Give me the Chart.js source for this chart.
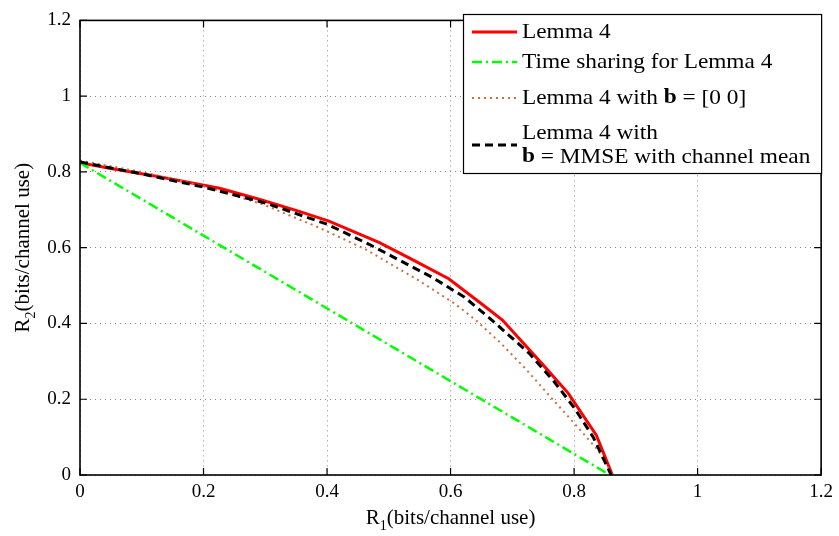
<!DOCTYPE html>
<html>
<head>
    <title>Rate region</title>
    <script src="https://cdn.jsdelivr.net/npm/chart.js"></script>
    <style>
        body { margin: 0; background: #fff; }
        #wrap { width: 839px; height: 536px; }
    </style>
</head>
<body>
    <div id="wrap"><canvas id="rate-chart"></canvas></div>

    <script>
        // Lemma 4
        const lemmaR1 = [0, 0.05, 0.126, 0.226, 0.29, 0.355, 0.403, 0.484, 0.532, 0.597, 0.65, 0.684, 0.749, 0.791, 0.836, 0.862];
        const lemmaR2 = [0.824, 0.809, 0.788, 0.757, 0.728, 0.696, 0.67, 0.614, 0.574, 0.518, 0.452, 0.409, 0.292, 0.215, 0.105, 0];

        // Time sharing for Lemma 4
        const shareR1 = [0, 0.858];
        const shareR2 = [0.824, 0];

        // Lemma 4 with b = [0 0]
        const zeroR1 = [0, 0.1, 0.2, 0.231, 0.3, 0.387, 0.462, 0.548, 0.607, 0.64, 0.68, 0.72, 0.763, 0.806, 0.839, 0.862];
        const zeroR2 = [0.83, 0.8, 0.762, 0.748, 0.712, 0.653, 0.596, 0.514, 0.452, 0.41, 0.35, 0.283, 0.204, 0.126, 0.065, 0];

        // Lemma 4 with b = MMSE with channel mean
        const mmseR1 = [0, 0.1, 0.2, 0.3, 0.4, 0.468, 0.57, 0.622, 0.664, 0.727, 0.767, 0.8, 0.831, 0.86];
        const mmseR2 = [0.826, 0.795, 0.76, 0.718, 0.662, 0.609, 0.522, 0.47, 0.413, 0.322, 0.248, 0.178, 0.1, 0];

        const axisTicks = [0, 0.2, 0.4, 0.6, 0.8, 1, 1.2];

        function pts(xs, ys) {
            return xs.map((x, i) => ({ x: x, y: ys[i] }));
        }

        const serif = '"Liberation Serif", "Times New Roman", serif';

        // draw text made of [string, bold] pieces, left aligned, a bit widened
        function drawRich(ctx, parts, x, y, size, stretch) {
            ctx.save();
            ctx.translate(x, y);
            ctx.scale(stretch, 1);
            let cx = 0;
            for (const [txt, bold] of parts) {
                ctx.font = (bold ? 'bold ' : '') + size + 'px ' + serif;
                ctx.fillText(txt, cx, 0);
                cx += ctx.measureText(txt).width;
            }
            ctx.restore();
        }

        const legendItems = [
            { color: '#ff0000', width: 3, dash: [], rows: [[['Lemma 4', false]]], y: 32 },
            { color: '#00ff00', width: 2.5, dash: [10, 4, 2, 4], rows: [[['Time sharing for Lemma 4', false]]], y: 62 },
            { color: '#c8703f', width: 2, dash: [2, 4], rows: [[['Lemma 4 with ', false], ['b', true], [' = [0 0]', false]]], y: 98 },
            { color: '#000000', width: 3, dash: [8, 5], rows: [[['Lemma 4 with', false]], [['b', true], [' = MMSE with channel mean', false]]], y: 145 }
        ];

        const framePlugin = {
            id: 'frame',
            afterDraw(chart) {
                const ctx = chart.ctx;
                const a = chart.chartArea;
                const xs = chart.scales.x, ys = chart.scales.y;
                ctx.save();

                // box and inward ticks
                ctx.strokeStyle = '#000';
                ctx.lineWidth = 1.6;
                ctx.setLineDash([]);
                ctx.strokeRect(a.left, a.top, a.right - a.left, a.bottom - a.top);
                ctx.lineWidth = 1.2;
                ctx.beginPath();
                for (const v of axisTicks) {
                    const px = xs.getPixelForValue(v);
                    ctx.moveTo(px, a.bottom); ctx.lineTo(px, a.bottom - 7);
                    ctx.moveTo(px, a.top); ctx.lineTo(px, a.top + 7);
                    const py = ys.getPixelForValue(v);
                    ctx.moveTo(a.left, py); ctx.lineTo(a.left + 7, py);
                    ctx.moveTo(a.right, py); ctx.lineTo(a.right - 7, py);
                }
                ctx.stroke();

                // axis titles with subscripts
                ctx.fillStyle = '#000';
                ctx.textBaseline = 'alphabetic';
                const drawTitle = (sub) => {
                    ctx.font = '21px ' + serif;
                    const wR = ctx.measureText('R').width;
                    const rest = '(bits/channel use)';
                    const wRest = ctx.measureText(rest).width;
                    ctx.font = '14px ' + serif;
                    const wSub = ctx.measureText(sub).width;
                    const total = wR + wSub + wRest;
                    let x0 = -total / 2;
                    ctx.font = '21px ' + serif;
                    ctx.fillText('R', x0, 0);
                    ctx.font = '14px ' + serif;
                    ctx.fillText(sub, x0 + wR, 6);
                    ctx.font = '21px ' + serif;
                    ctx.fillText(rest, x0 + wR + wSub, 0);
                };
                ctx.save();
                ctx.translate((a.left + a.right) / 2, 524);
                drawTitle('1');
                ctx.restore();
                ctx.save();
                ctx.translate(29, (a.top + a.bottom) / 2);
                ctx.rotate(-Math.PI / 2);
                drawTitle('2');
                ctx.restore();

                // legend box
                const lx = 463, ly = 14, lw = a.right - 463, lh = 159;
                ctx.fillStyle = '#fff';
                ctx.fillRect(lx, ly, lw, lh);
                ctx.strokeStyle = '#000';
                ctx.lineWidth = 1.2;
                ctx.strokeRect(lx + 0.5, ly + 0.5, lw, lh);
                ctx.textBaseline = 'middle';
                for (const it of legendItems) {
                    ctx.strokeStyle = it.color;
                    ctx.lineWidth = it.width;
                    ctx.setLineDash(it.dash);
                    ctx.beginPath();
                    ctx.moveTo(472, it.y);
                    ctx.lineTo(517, it.y);
                    ctx.stroke();
                    ctx.setLineDash([]);
                    ctx.fillStyle = '#000';
                    const n = it.rows.length;
                    it.rows.forEach((row, k) => {
                        const ty = it.y + (k - (n - 1) / 2) * 24;
                        drawRich(ctx, row, 522, ty, 21, 1.11);
                    });
                }
                ctx.restore();
            }
        };

        function lineSet(label, xs, ys, color, width, dash, order) {
            return {
                label: label,
                data: pts(xs, ys),
                borderColor: color,
                borderWidth: width,
                borderDash: dash,
                pointRadius: 0,
                fill: false,
                tension: 0,
                order: order
            };
        }

        const tickFont = { family: serif, size: 19 };

        new Chart(document.getElementById('rate-chart').getContext('2d'), {
            type: 'line',
            data: {
                datasets: [
                    lineSet('Lemma 4', lemmaR1, lemmaR2, '#ff0000', 3, [], 3),
                    lineSet('Time sharing for Lemma 4', shareR1, shareR2, '#00ff00', 2.5, [10, 4, 2, 4], 2),
                    lineSet('Lemma 4 with b = [0 0]', zeroR1, zeroR2, '#c8703f', 2, [2, 4], 1),
                    lineSet('Lemma 4 with b = MMSE with channel mean', mmseR1, mmseR2, '#000000', 3, [8, 5], 0)
                ]
            },
            options: {
                responsive: true,
                maintainAspectRatio: false,
                animation: false,
                layout: { padding: { top: 15, right: 16, left: 0, bottom: 0 } },
                plugins: { legend: { display: false }, tooltip: { enabled: false } },
                scales: {
                    x: {
                        type: 'linear',
                        min: 0,
                        max: 1.2,
                        afterBuildTicks: s => { s.ticks = axisTicks.map(v => ({ value: v })); },
                        afterFit: s => { s.height = 61; },
                        ticks: {
                            font: tickFont,
                            color: '#000',
                            padding: 6,
                            maxRotation: 0,
                            callback: v => String(parseFloat(v.toFixed(1)))
                        },
                        grid: { color: '#888', lineWidth: 1, drawTicks: false, borderDash: [1, 4] },
                        border: { display: false, dash: [1, 4] }
                    },
                    y: {
                        type: 'linear',
                        min: 0,
                        max: 1.2,
                        afterBuildTicks: s => { s.ticks = axisTicks.map(v => ({ value: v })); },
                        afterFit: s => { s.width = 80; },
                        ticks: {
                            font: tickFont,
                            color: '#000',
                            padding: 9,
                            callback: v => String(parseFloat(v.toFixed(1)))
                        },
                        grid: { color: '#888', lineWidth: 1, drawTicks: false, borderDash: [1, 4] },
                        border: { display: false, dash: [1, 4] }
                    }
                }
            },
            plugins: [framePlugin]
        });
    </script>
</body>
</html>
